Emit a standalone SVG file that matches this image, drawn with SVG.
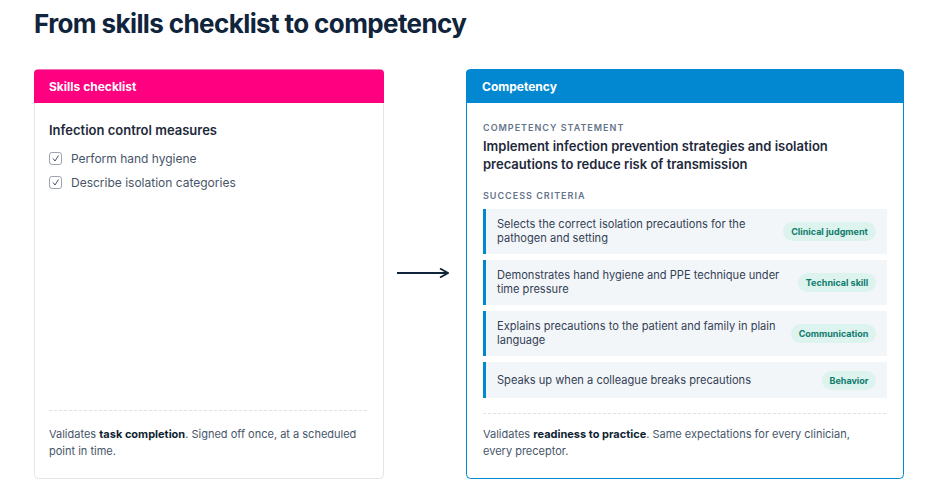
<svg xmlns="http://www.w3.org/2000/svg" width="936" height="504" viewBox="0 0 936 504">
<defs>
<style>
text{font-family:Inter,"Noto Sans","Liberation Sans",sans-serif}
.title{font-size:26px;font-weight:700;fill:#10243b;letter-spacing:-0.6px}
.hdr{font-size:12px;font-weight:700;fill:#ffffff}
.h2{font-size:13px;font-weight:600;fill:#1e293b}
.item{font-size:12px;fill:#475569}
.foot{font-size:11px;fill:#475569}
.foot tspan.b{font-weight:700;fill:#0f1f33}
.lab{font-size:9px;font-weight:600;fill:#64748b;letter-spacing:1px}
.stmt{font-size:13px;font-weight:600;fill:#1e293b}
.row{fill:#f3f6f9}
.bar{fill:#0288d1}
.rt{font-size:11.1px;fill:#334155}
.pill{fill:#dcf3ee}
.pt{font-size:9px;font-weight:700;fill:#0f7b6c;text-anchor:middle}
.dash{stroke:#dde2e8;stroke-width:1;stroke-dasharray:3 2}
.cb{fill:#ffffff;stroke:#9aa4b2;stroke-width:1}
.ck{fill:none;stroke:#475569;stroke-width:1}
</style>
<marker id="ah" viewBox="0 0 10 10" refX="9" refY="5" markerWidth="10" markerHeight="10" markerUnits="userSpaceOnUse" orient="auto">
<path d="M1,0.5 L9,5 L1,9.5" fill="none" stroke="#10243b" stroke-width="1.8"/>
</marker>
</defs>
<rect width="936" height="504" fill="#ffffff"/>
<text class="title" x="34" y="33">From skills checklist to competency</text>

<g id="skills-checklist">
<rect x="34.5" y="69.5" width="349" height="409" rx="4" fill="#ffffff" stroke="#e2e5e9"/>
<path d="M34,103 V73.5 A4,4 0 0 1 38,69.5 H380 A4,4 0 0 1 384,73.5 V103 Z" fill="#ff0080"/>
<text class="hdr" x="49" y="90.5">Skills checklist</text>
<text class="h2" x="49" y="135">Infection control measures</text>
<rect class="cb" x="49.5" y="152.5" width="12" height="12" rx="2.5"/>
<path class="ck" d="M53,158.5 L55,161 L58.5,155.5"/>
<text class="item" x="71" y="162.5">Perform hand hygiene</text>
<rect class="cb" x="49.5" y="176.5" width="12" height="12" rx="2.5"/>
<path class="ck" d="M53,182.5 L55,185 L58.5,179.5"/>
<text class="item" x="71" y="186.5">Describe isolation categories</text>
<line class="dash" x1="49" y1="410.5" x2="368" y2="410.5"/>
<text class="foot" x="49" y="438">Validates <tspan class="b">task completion</tspan>. Signed off once, at a scheduled</text>
<text class="foot" x="49" y="455">point in time.</text>
</g>

<g id="connectors">
<line x1="397" y1="273" x2="448" y2="273" stroke="#10243b" stroke-width="2" marker-end="url(#ah)"/>
</g>

<g id="competency">
<rect x="466.5" y="69.5" width="437" height="409" rx="4" fill="#ffffff" stroke="#0288d1"/>
<path d="M466,103 V73.5 A4,4 0 0 1 470,69.5 H900 A4,4 0 0 1 904,73.5 V103 Z" fill="#0288d1"/>
<text class="hdr" x="482" y="90.5">Competency</text>
<text class="lab" x="483" y="131">COMPETENCY STATEMENT</text>
<text class="stmt" x="483" y="151">Implement infection prevention strategies and isolation</text>
<text class="stmt" x="483" y="169">precautions to reduce risk of transmission</text>
<text class="lab" x="483" y="199">SUCCESS CRITERIA</text>

<g id="criterion-1">
<rect class="row" x="483" y="209" width="404" height="45"/>
<rect class="bar" x="483" y="209" width="3" height="45"/>
<text class="rt" x="497" y="228">Selects the correct isolation precautions for the</text>
<text class="rt" x="497" y="242">pathogen and setting</text>
<rect class="pill" x="783" y="222" width="93" height="19" rx="9.5"/>
<text class="pt" x="829.5" y="234.5">Clinical judgment</text>
</g>
<g id="criterion-2">
<rect class="row" x="483" y="260" width="404" height="45"/>
<rect class="bar" x="483" y="260" width="3" height="45"/>
<text class="rt" x="497" y="279">Demonstrates hand hygiene and PPE technique under</text>
<text class="rt" x="497" y="293">time pressure</text>
<rect class="pill" x="798" y="273" width="78" height="19" rx="9.5"/>
<text class="pt" x="837" y="285.5">Technical skill</text>
</g>
<g id="criterion-3">
<rect class="row" x="483" y="311" width="404" height="45"/>
<rect class="bar" x="483" y="311" width="3" height="45"/>
<text class="rt" x="497" y="330">Explains precautions to the patient and family in plain</text>
<text class="rt" x="497" y="344">language</text>
<rect class="pill" x="791" y="324" width="85" height="19" rx="9.5"/>
<text class="pt" x="833.5" y="336.5">Communication</text>
</g>
<g id="criterion-4">
<rect class="row" x="483" y="362" width="404" height="36"/>
<rect class="bar" x="483" y="362" width="3" height="36"/>
<text class="rt" x="497" y="384">Speaks up when a colleague breaks precautions</text>
<rect class="pill" x="822" y="371" width="54" height="19" rx="9.5"/>
<text class="pt" x="849" y="383.5">Behavior</text>
</g>

<line class="dash" x1="483" y1="413.5" x2="887" y2="413.5"/>
<text class="foot" x="483" y="438">Validates <tspan class="b">readiness to practice</tspan>. Same expectations for every clinician,</text>
<text class="foot" x="483" y="455">every preceptor.</text>
</g>
</svg>
